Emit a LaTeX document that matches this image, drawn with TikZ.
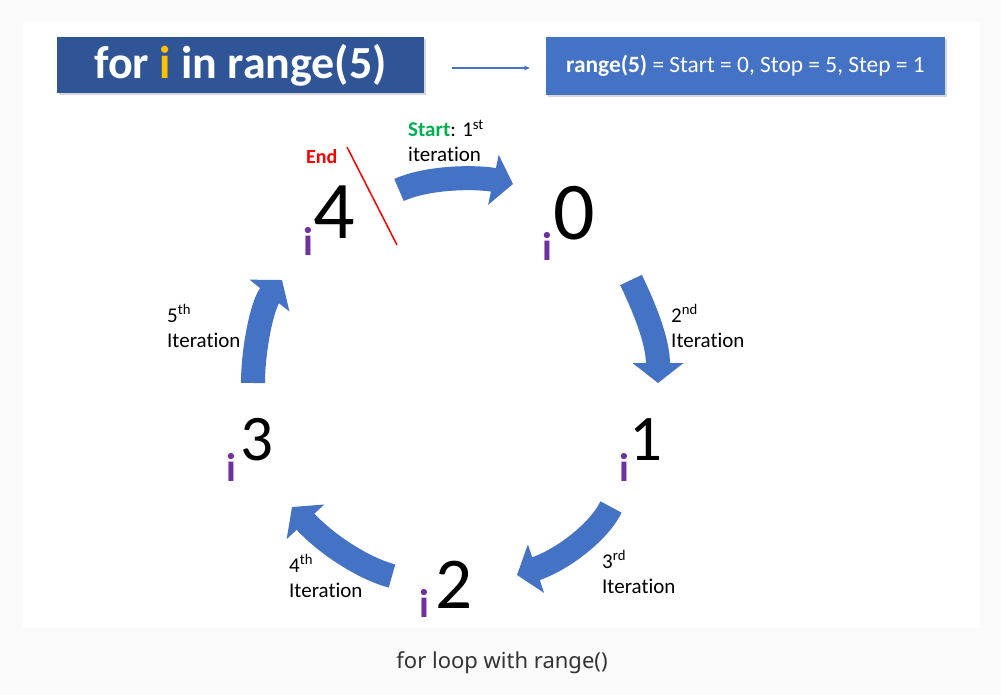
\documentclass[tikz,border=0pt]{standalone}
\usepackage{fontspec}
\setmainfont{Carlito}[Ligatures=NoCommon]
\newfontfamily\capfont{Noto Sans}
\usetikzlibrary{arrows.meta,shadows}
\definecolor{darkblue}{HTML}{2F5597}
\definecolor{midblue}{HTML}{4472C4}
\definecolor{ipurple}{HTML}{7030A0}
\definecolor{igold}{HTML}{FFC000}
\definecolor{sgreen}{HTML}{00B050}
\definecolor{ered}{HTML}{FF0000}
\definecolor{bgout}{HTML}{FAFAFA}
\definecolor{captxt}{HTML}{333333}
\begin{document}
\begin{tikzpicture}[x=1pt,y=-1pt,
  bigarrow/.style={draw=midblue, line width=24pt, -{Triangle[width=50pt,length=20pt]}},
  dig/.style={inner sep=0pt, anchor=base west},
  idx/.style={inner sep=0pt, anchor=base west, text=ipurple, font=\fontsize{40}{40}\selectfont\bfseries},
  lbl/.style={inner sep=0pt, anchor=base west, align=left, font=\fontsize{21}{25}\selectfont},
  titlebox/.style={fill=darkblue, text=white, minimum width=367pt, minimum height=56pt, inner sep=0pt,
    font=\fontsize{46}{46}\selectfont\bfseries, drop shadow={shadow xshift=2pt, shadow yshift=-2pt, opacity=.3}},
  rangebox/.style={fill=midblue, text=white, minimum width=399pt, minimum height=58pt, inner sep=0pt,
    font=\fontsize{23.4}{26}\selectfont, drop shadow={shadow xshift=2pt, shadow yshift=-2pt, opacity=.3}}
]
\fill[bgout] (0,0) rectangle (1001,695);
\fill[white] (23,22) rectangle (980,628);
\useasboundingbox (0,0) rectangle (1001,695);

% header
\node[titlebox] (title) at (240.5,65) {for \textcolor{igold}{i} in range(5)};
\node[rangebox] (rng) at (745.5,66) {\textbf{range(5)} = Start = 0, Stop = 5, Step = 1};
\draw[midblue, line width=1.2pt, -{Stealth[length=6pt,width=5pt]}]
  ([shift={(28,3)}]title.east) -- ([shift={(-16,2)}]rng.west);

% numbers
\node[dig, font=\fontsize{82}{82}\selectfont] (d4) at (313,238) {4};
\node[idx] (i4) at (303,255) {i};
\node[dig, font=\fontsize{82}{82}\selectfont] (d0) at (553,240) {0};
\node[idx] (i0) at (542,260) {i};
\node[dig, font=\fontsize{65}{65}\selectfont] (d1) at (629,460) {1};
\node[idx] (i1) at (619,481) {i};
\node[dig, font=\fontsize{73}{73}\selectfont] (d2) at (435,608) {2};
\node[idx] (i2) at (419,617) {i};
\node[dig, font=\fontsize{65}{65}\selectfont] (d3) at (240,460) {3};
\node[idx] (i3) at (226,481) {i};

% end marker
\coordinate (e1) at (347,147);
\coordinate (e2) at (397,245);
\draw[ered, line width=1.5pt] (e1) -- (e2);
\node[lbl, text=ered, font=\fontsize{20}{24}\selectfont\bfseries] (endl) at (306,164) {End};

% curved arrows
\coordinate (a1s) at (399,190); \coordinate (a1e) at (513,184);
\draw[bigarrow] (a1s) .. controls (430,176) and (480,177) .. (a1e);
\coordinate (a2s) at (631,280); \coordinate (a2e) at (658,383);
\draw[bigarrow] (a2s) .. controls (643,305) and (658,340) .. (a2e);
\coordinate (a3s) at (611,507); \coordinate (a3e) at (517,575);
\draw[bigarrow] (a3s) .. controls (599,532) and (562,560) .. (a3e);
\coordinate (a4s) at (392,576); \coordinate (a4e) at (292,507);
\draw[bigarrow] (a4s) .. controls (362,568) and (325,543) .. (a4e);
\coordinate (a5s) at (253,383); \coordinate (a5e) at (282,280);
\draw[bigarrow] (a5s) .. controls (253,350) and (262,305) .. (a5e);

% labels (anchored at the baseline of the last line)
\node[lbl] (l1) at (408,162) {\textcolor{sgreen}{\textbf{Start}}: 1\textsuperscript{st}\\iteration};
\node[lbl] (l2) at (671,347) {2\textsuperscript{nd}\\Iteration};
\node[lbl] (l3) at (602,593) {3\textsuperscript{rd}\\Iteration};
\node[lbl] (l4) at (289,597) {4\textsuperscript{th}\\Iteration};
\node[lbl] (l5) at (167,347) {5\textsuperscript{th}\\Iteration};

% caption
\node[inner sep=0pt, anchor=base, text=captxt, font=\capfont\fontsize{22}{22}\selectfont] (cap) at (502,668) {for loop with range()};
\end{tikzpicture}
\end{document}
